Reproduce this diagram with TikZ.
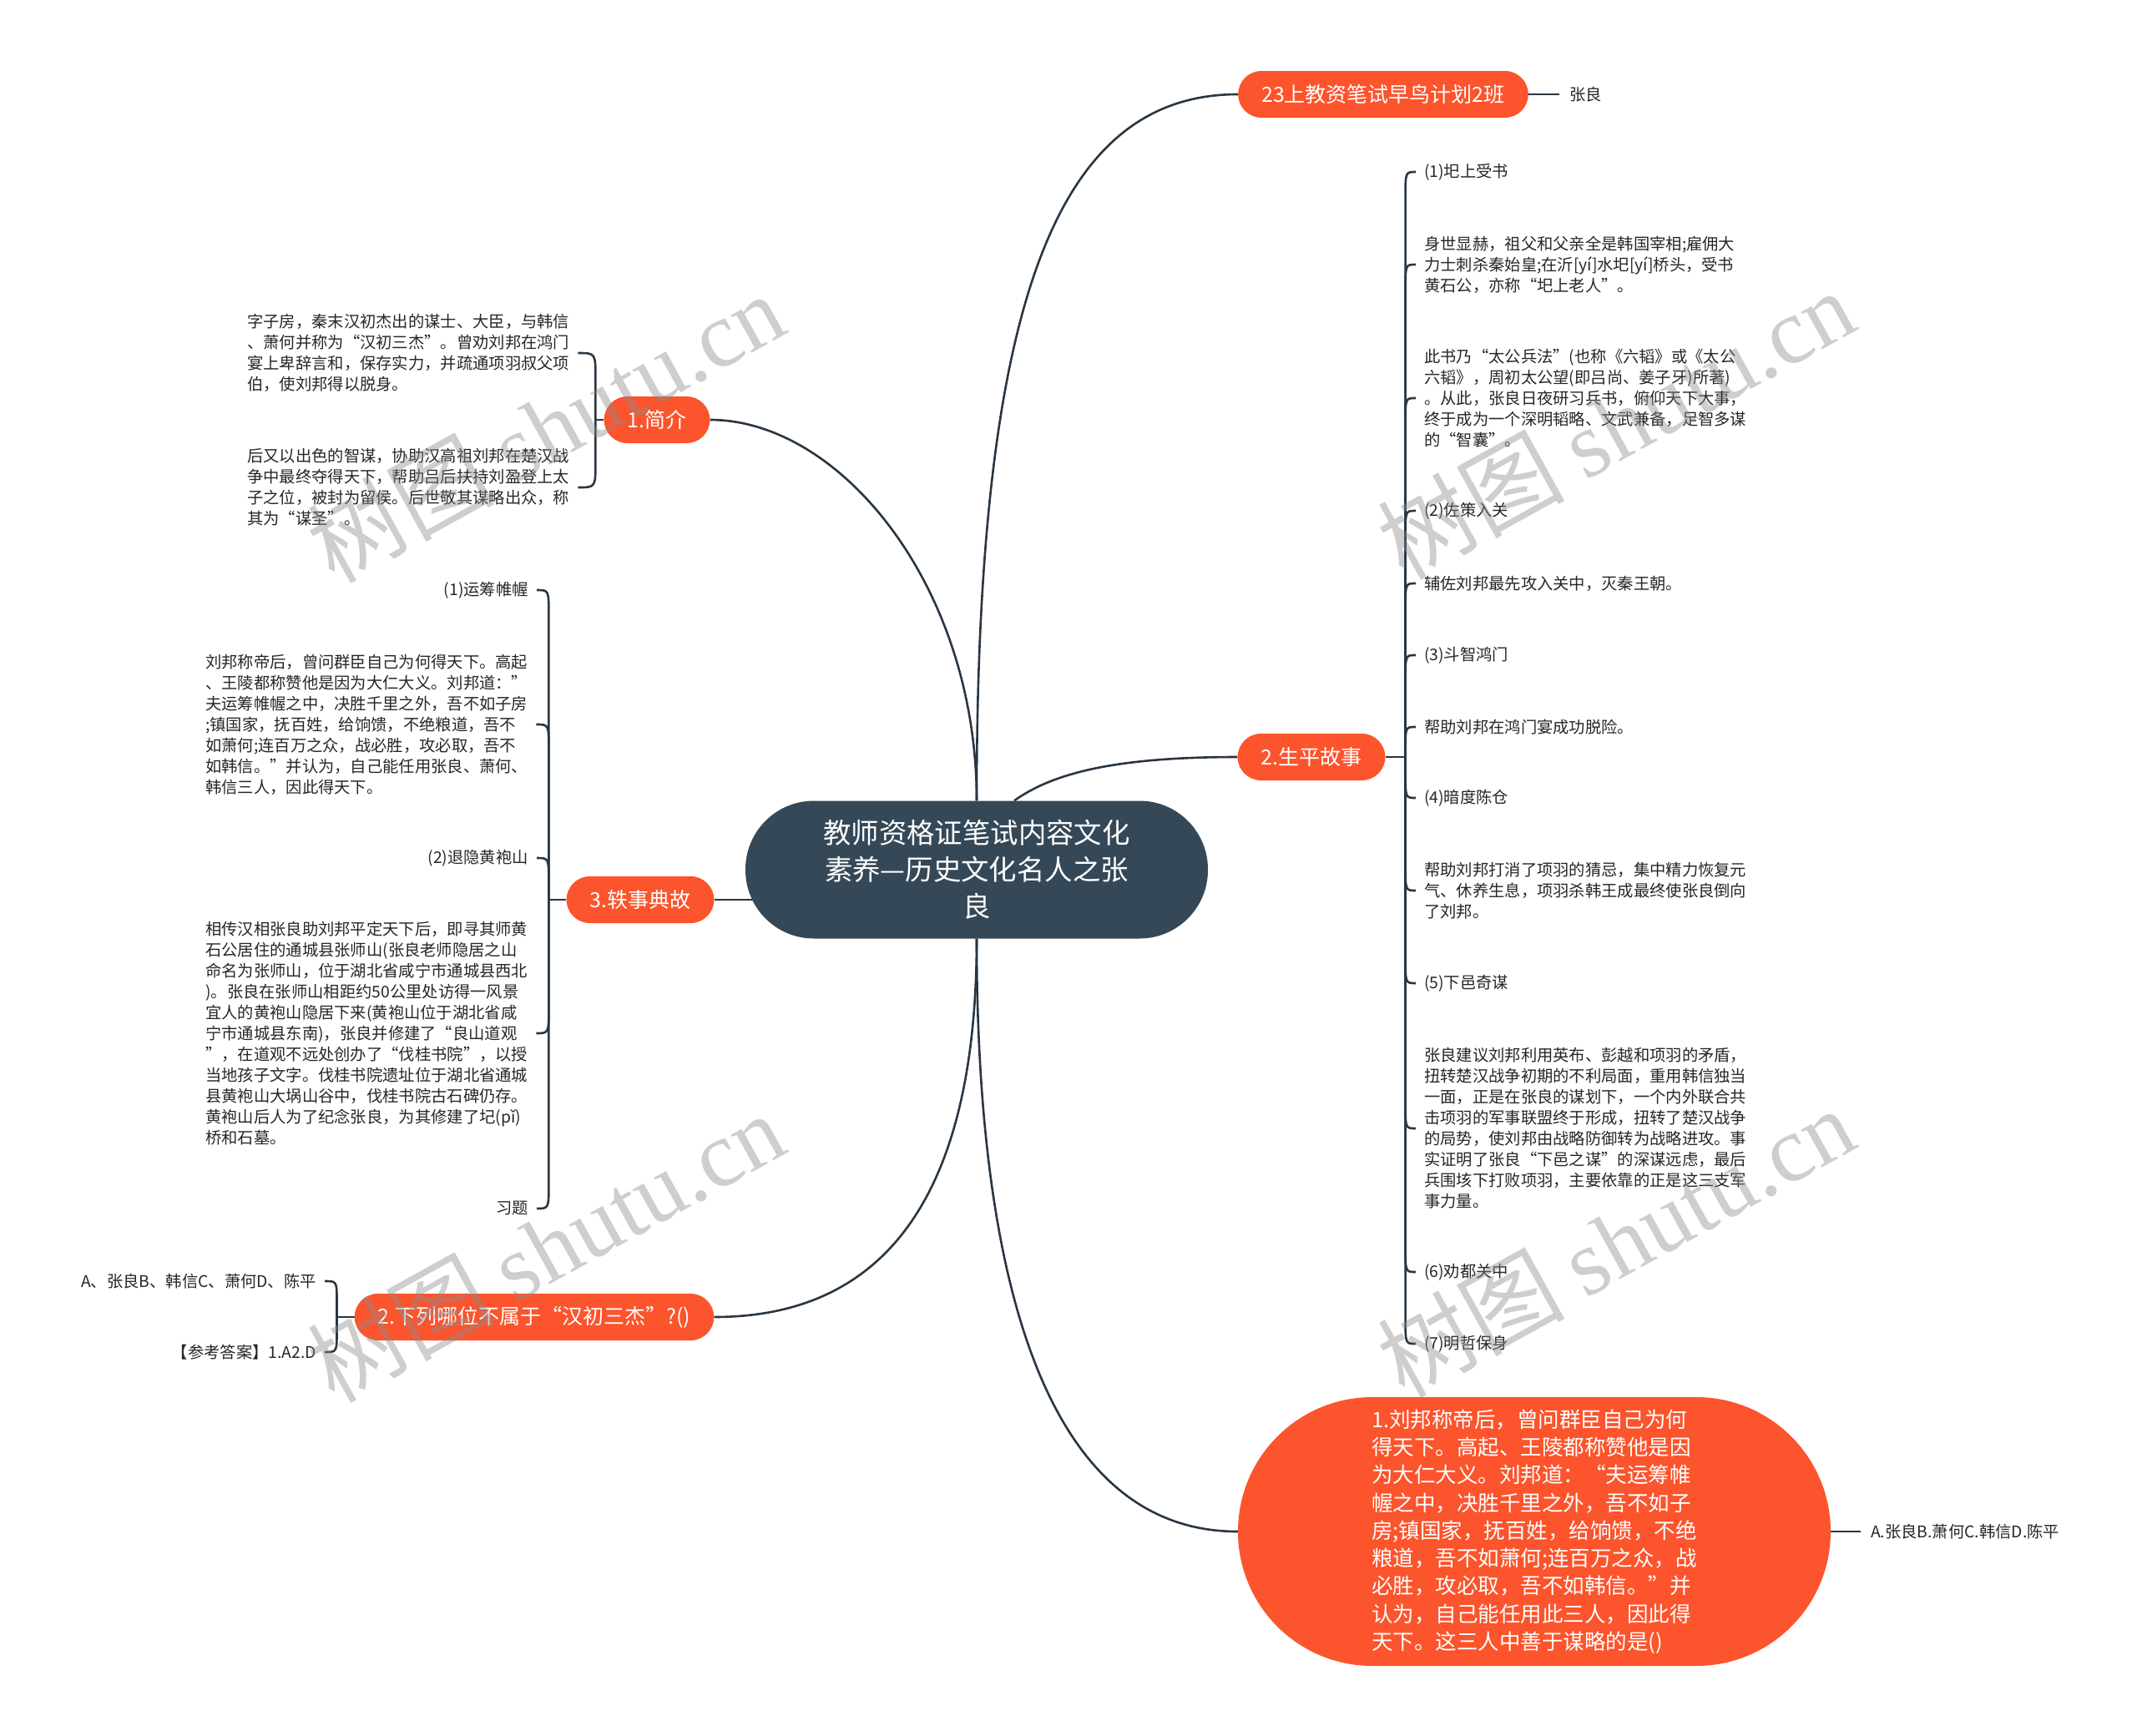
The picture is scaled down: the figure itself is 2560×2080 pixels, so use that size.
\documentclass[tikz,border=0pt]{standalone}
\usepackage{fontspec}
\setmainfont{Noto Sans CJK SC}
\newfontfamily\wmlatin{Liberation Serif}
\usetikzlibrary{calc}
\definecolor{orng}{RGB}{252,84,44}
\definecolor{slate}{RGB}{53,72,87}
\definecolor{linec}{RGB}{40,54,66}
\pgfdeclarelayer{bg}\pgfdeclarelayer{top}\pgfsetlayers{bg,main,top}
\newcommand\kidL[3]{\draw[link] (#1) -- ($(#1 |- #2.east)+(0,#3)$) .. controls (#1 |- #2.east) .. ($(#2.east)+(10,0)$);}
\newcommand\kidR[3]{\draw[link] (#1) -- ($(#1 |- #2.west)+(0,#3)$) .. controls (#1 |- #2.west) .. ($(#2.west)+(-10,0)$);}
\tikzset{
  link/.style={draw=linec, line width=2.6pt},
  topic/.style={fill=orng, text=white, rounded corners=28pt, minimum height=56pt,
    inner xsep=28pt, inner ysep=0pt, font=\fontsize{25}{30}\selectfont},
  leaf/.style={inner sep=0pt, align=left, text=black!85, font=\fontsize{19.3}{25}\selectfont},
  wmark/.style={opacity=0.42, text=black!45, rotate=29, inner sep=0pt,
    font=\fontsize{112}{112}\selectfont}
}
\begin{document}
\begin{tikzpicture}[x=1pt,y=-1pt]
\path[use as bounding box] (0,0) rectangle (2560,2080);
\begin{pgfonlayer}{bg}
\fill[white] (0,0) rectangle (2560,2080);
\end{pgfonlayer}

% centre
\node[fill=slate, text=white, rounded corners=82pt, minimum width=554pt, minimum height=165pt,
  inner sep=0pt, align=center, font=\fontsize{33.4}{44}\selectfont] (c) at (1170,1042)
  {教师资格证笔试内容文化\\素养—历史文化名人之张\\良};

% main topics
\node[topic] (b23) at (1657,113) {23上教资笔试早鸟计划2班};
\node[topic] (b1) at (787,503) {1.简介};
\node[topic] (b2) at (1571,907) {2.生平故事};
\node[topic] (b3) at (767,1078) {3.轶事典故};
\node[topic] (bq) at (640,1578) {2.下列哪位不属于“汉初三杰”?()};
\node[fill=orng, text=white, rounded corners=161pt, minimum width=710pt, minimum height=322pt,
  inner sep=0pt, align=left, font=\fontsize{25.5}{33.3}\selectfont] (q) at (1838,1835)
  {1.刘邦称帝后，曾问群臣自己为何\\得天下。高起、王陵都称赞他是因\\为大仁大义。刘邦道：“夫运筹帷\\幄之中，决胜千里之外，吾不如子\\房;镇国家，抚百姓，给饷馈，不绝\\粮道，吾不如萧何;连百万之众，战\\必胜，攻必取，吾不如韩信。”并\\认为，自己能任用此三人，因此得\\天下。这三人中善于谋略的是()};

% leaves
\node[leaf, anchor=west] (z) at (1880,113) {张良};
\node[leaf, anchor=west] (qa) at (2241,1835) {A.张良B.萧何C.韩信D.陈平};

\node[leaf, anchor=west] (a1) at (296,423) {字子房，秦末汉初杰出的谋士、大臣，与韩信\\、萧何并称为“汉初三杰”。曾劝刘邦在鸿门\\宴上卑辞言和，保存实力，并疏通项羽叔父项\\伯，使刘邦得以脱身。};
\node[leaf, anchor=west] (a2) at (296,584) {后又以出色的智谋，协助汉高祖刘邦在楚汉战\\争中最终夺得天下，帮助吕后扶持刘盈登上太\\子之位，被封为留侯。后世敬其谋略出众，称\\其为“谋圣”。};

\node[leaf, anchor=east] (s1) at (633,707) {(1)运筹帷幄};
\node[leaf, anchor=west] (s2) at (246,868) {刘邦称帝后，曾问群臣自己为何得天下。高起\\、王陵都称赞他是因为大仁大义。刘邦道：”\\夫运筹帷幄之中，决胜千里之外，吾不如子房\\;镇国家，抚百姓，给饷馈，不绝粮道，吾不\\如萧何;连百万之众，战必胜，攻必取，吾不\\如韩信。”并认为，自己能任用张良、萧何、\\韩信三人，因此得天下。};
\node[leaf, anchor=east] (s3) at (633,1028) {(2)退隐黄袍山};
\node[leaf, anchor=west] (s4) at (246,1238) {相传汉相张良助刘邦平定天下后，即寻其师黄\\石公居住的通城县张师山(张良老师隐居之山\\命名为张师山，位于湖北省咸宁市通城县西北\\)。张良在张师山相距约50公里处访得一风景\\宜人的黄袍山隐居下来(黄袍山位于湖北省咸\\宁市通城县东南)，张良并修建了“良山道观\\”，在道观不远处创办了“伐桂书院”，以授\\当地孩子文字。伐桂书院遗址位于湖北省通城\\县黄袍山大埚山谷中，伐桂书院古石碑仍存。\\黄袍山后人为了纪念张良，为其修建了圮(pǐ)\\桥和石墓。};
\node[leaf, anchor=east] (s5) at (633,1448) {习题};

\node[leaf, anchor=east] (x1) at (379,1535) {A、张良B、韩信C、萧何D、陈平};
\node[leaf, anchor=east] (x2) at (379,1620) {【参考答案】1.A2.D};

\node[leaf, anchor=west] (r1) at (1706,206) {(1)圯上受书};
\node[leaf, anchor=west] (r2) at (1706,317) {身世显赫，祖父和父亲全是韩国宰相;雇佣大\\力士刺杀秦始皇;在沂[yí]水圯[yí]桥头，受书\\黄石公，亦称“圯上老人”。};
\node[leaf, anchor=west] (r3) at (1706,477) {此书乃“太公兵法”(也称《六韬》或《太公\\六韬》，周初太公望(即吕尚、姜子牙)所著)\\。从此，张良日夜研习兵书，俯仰天下大事，\\终于成为一个深明韬略、文武兼备，足智多谋\\的“智囊”。};
\node[leaf, anchor=west] (r4) at (1706,612) {(2)佐策入关};
\node[leaf, anchor=west] (r5) at (1706,699) {辅佐刘邦最先攻入关中，灭秦王朝。};
\node[leaf, anchor=west] (r6) at (1706,785) {(3)斗智鸿门};
\node[leaf, anchor=west] (r7) at (1706,871) {帮助刘邦在鸿门宴成功脱险。};
\node[leaf, anchor=west] (r8) at (1706,956) {(4)暗度陈仓};
\node[leaf, anchor=west] (r9) at (1706,1067) {帮助刘邦打消了项羽的猜忌，集中精力恢复元\\气、休养生息，项羽杀韩王成最终使张良倒向\\了刘邦。};
\node[leaf, anchor=west] (r10) at (1706,1178) {(5)下邑奇谋};
\node[leaf, anchor=west] (r11) at (1706,1352) {张良建议刘邦利用英布、彭越和项羽的矛盾，\\扭转楚汉战争初期的不利局面，重用韩信独当\\一面，正是在张良的谋划下，一个内外联合共\\击项羽的军事联盟终于形成，扭转了楚汉战争\\的局势，使刘邦由战略防御转为战略进攻。事\\实证明了张良“下邑之谋”的深谋远虑，最后\\兵围垓下打败项羽，主要依靠的正是这三支军\\事力量。};
\node[leaf, anchor=west] (r12) at (1706,1524) {(6)劝都关中};
\node[leaf, anchor=west] (r13) at (1706,1610) {(7)明哲保身};

% trunk points
\coordinate (t1) at ($(b1.west)+(-10,0)$);
\coordinate (t3) at ($(b3.west)+(-21,0)$);
\coordinate (tq) at ($(bq.west)+(-21,0)$);
\coordinate (t2) at ($(b2.east)+(24,0)$);

\begin{pgfonlayer}{bg}
% main curves
\draw[link] (c.north) .. controls ($(c.north |- b23.west)+(0,253)$) and ($(b23.west)+(-219,0)$) .. (b23.west);
\draw[link] (b1.east) .. controls ($(b1.east)+(156,0)$) and ($(c.north)+(0,-257)$) .. (c.north);
\draw[link] ($(c.north)+(45,0)$) .. controls ($(c.north)+(90,-32)$) and ($(b2.west)+(-150,0)$) .. (b2.west);
\draw[link] (b3.east) -- (c.west |- b3.east) -- ($(c.west |- b3.east)+(40,0)$);
\draw[link] (c.south) .. controls ($(c.south)+(0,278)$) and ($(bq.east)+(225,0)$) .. (bq.east);
\draw[link] (c.south) .. controls ($(c.south)+(0,428)$) and ($(q.west)+(-223,0)$) .. (q.west);
\draw[link] (b23.east) -- ($(z.west)+(-12,0)$);
\draw[link] (q.east) -- ($(qa.west)+(-12,0)$);
% brackets
\draw[link] (b1.west) -- (t1);
\kidL{t1}{a1}{30}
\kidL{t1}{a2}{-30}
\draw[link] (b3.west) -- (t3);
\kidL{t3}{s1}{30}
\kidL{t3}{s2}{30}
\kidL{t3}{s3}{30}
\kidL{t3}{s4}{-30}
\kidL{t3}{s5}{-30}
\draw[link] (bq.west) -- (tq);
\kidL{tq}{x1}{25}
\kidL{tq}{x2}{-25}
\draw[link] (b2.east) -- (t2);
\kidR{t2}{r1}{30}
\kidR{t2}{r2}{30}
\kidR{t2}{r3}{30}
\kidR{t2}{r4}{30}
\kidR{t2}{r5}{30}
\kidR{t2}{r6}{30}
\kidR{t2}{r7}{28}
\kidR{t2}{r8}{-30}
\kidR{t2}{r9}{-30}
\kidR{t2}{r10}{-30}
\kidR{t2}{r11}{-30}
\kidR{t2}{r12}{-30}
\kidR{t2}{r13}{-30}
\end{pgfonlayer}

% watermarks
\begin{pgfonlayer}{top}
\node[wmark] (w1) at (653,512) {树图 {\wmlatin shutu.cn}};
\node[wmark] (w2) at (1935,508) {树图 {\wmlatin shutu.cn}};
\node[wmark] (w3) at (653,1494) {树图 {\wmlatin shutu.cn}};
\node[wmark] (w4) at (1935,1488) {树图 {\wmlatin shutu.cn}};
\end{pgfonlayer}
\end{tikzpicture}
\end{document}
